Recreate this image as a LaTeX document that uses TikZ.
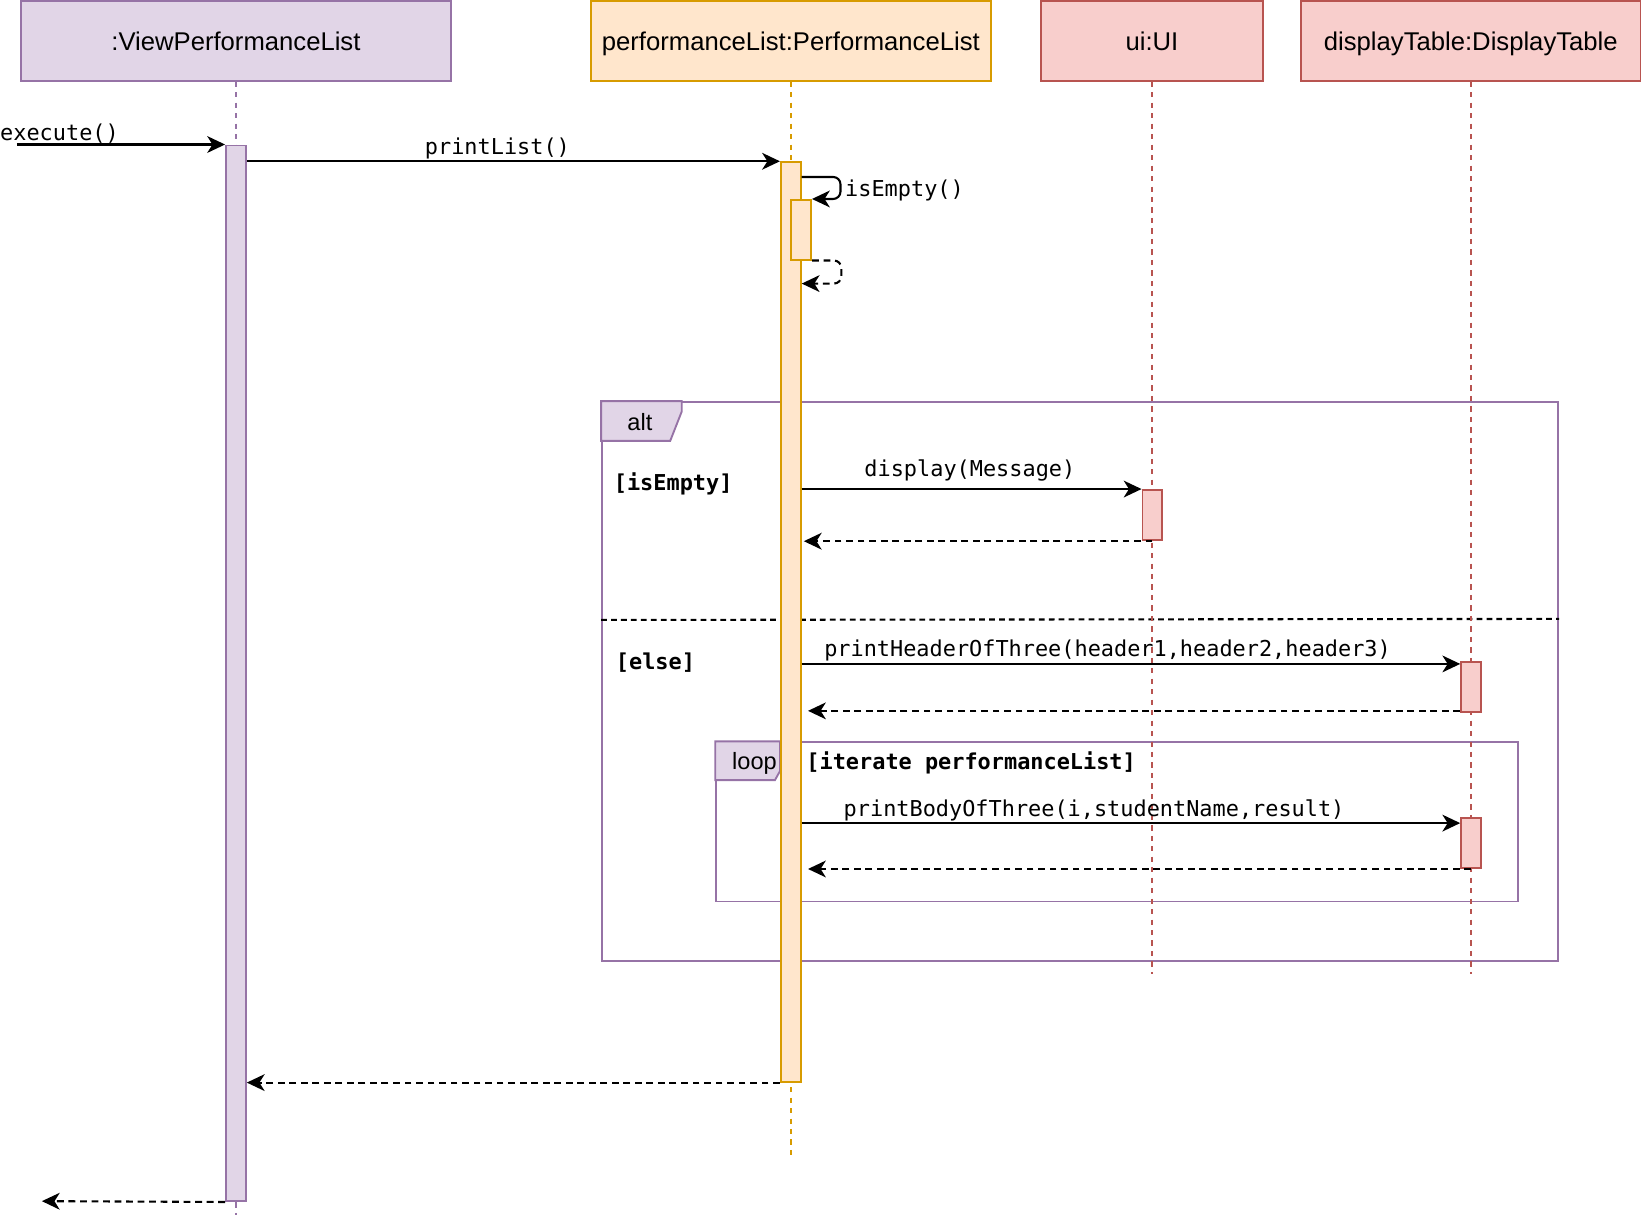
\documentclass[tikz,border=0pt]{standalone}
\usepackage{fontspec}
\setmonofont{DejaVu Sans Mono}
\newfontfamily\headfont{Liberation Sans}
\usepackage{xcolor}
\usepackage{tikz}
\usetikzlibrary{calc,arrows.meta,positioning}
\definecolor{lilacFill}{HTML}{E1D5E7}
\definecolor{lilacLine}{HTML}{9673A6}
\definecolor{peachFill}{HTML}{FFE6CC}
\definecolor{peachLine}{HTML}{D79B00}
\definecolor{roseFill}{HTML}{F8CECC}
\definecolor{roseLine}{HTML}{B85450}

\begin{document}
\begin{tikzpicture}[
        x=1pt, y=-1pt,
        objbox/.style={draw=#1Line, fill=#1Fill, line width=1.8pt, minimum height=76pt, inner sep=0pt, text height=17.5pt, text depth=0pt, font=\headfont\fontsize{24.5pt}{29pt}\selectfont},
        lifeline/.style={draw=#1Line, line width=1.5pt, dash pattern=on 5pt off 5pt},
        actbar/.style={draw=#1Line, fill=#1Fill, line width=1.8pt, minimum width=19pt, anchor=north, inner sep=0pt},
        msg/.style={line width=2pt, -{Stealth[length=17pt, width=16pt, inset=5pt]}},
        ret/.style={msg, dash pattern=on 6.5pt off 4.5pt},
        call/.style={font=\ttfamily\fontsize{20.9pt}{25pt}\selectfont, inner sep=0pt, anchor=base west},
        guard/.style={font=\ttfamily\bfseries\fontsize{20.9pt}{25pt}\selectfont, inner sep=0pt, anchor=base west},
        umlframe/.style={draw=lilacLine, line width=1.8pt, anchor=north west, inner sep=0pt},
        fragtag/.style={draw=lilacLine, fill=lilacFill, line width=1.8pt},
        tagtext/.style={font=\headfont\fontsize{22.5pt}{27pt}\selectfont, inner sep=0pt, anchor=base west},
        divider/.style={line width=2pt, dash pattern=on 5.5pt off 4pt}
    ]
        \useasboundingbox (0,0) rectangle (1568,1167);

        % --- participants ---
        \node[objbox=lilac, minimum width=410pt] (view) at (225.3,39.2) {:ViewPerformanceList};
        \node[objbox=peach, minimum width=382pt] (perfList) at (755.2,39.2) {performanceList:PerformanceList};
        \node[objbox=rose, minimum width=212pt] (ui) at (1100,39.2) {ui:UI};
        \node[objbox=rose, minimum width=324pt] (table) at (1404.5,39.2) {displayTable:DisplayTable};

        % --- alt / loop fragments ---
        \node[umlframe, minimum width=913pt, minimum height=534pt] (altFrame) at (574,383) {};
        \draw[fragtag] (altFrame.north west) -- ++(77,0) -- ++(0,10) -- ++(-11,28) -- ++(-66,0) -- cycle;
        \node[tagtext] (altTag) at (599,411) {alt};
        \draw[divider] ($(altFrame.north west)+(0,209)$) -- ($(altFrame.north east)+(0,208)$);
        \node[umlframe, minimum width=766pt, minimum height=152pt] (loopFrame) at (683,708) {};
        \draw[fragtag] (loopFrame.north west) -- ++(62,0) -- ++(0,28) -- ++(-5,9) -- ++(-57,0) -- cycle;
        \node[tagtext] (loopTag) at (699,735) {loop};
        \node[guard] (emptyGuard) at (586,468) {[isEmpty]};
        \node[guard] (elseGuard) at (588,639) {[else]};
        \node[guard] (iterGuard) at (769.9,735) {[iterate performanceList]};

        % --- lifelines ---
        \coordinate (viewEnd) at (225.3,1160);
        \coordinate (listEnd) at (755.2,1103);
        \coordinate (uiEnd) at (1100,930);
        \coordinate (tableEnd) at (1404.5,930);
        \draw[lifeline=lilac] (view.south) -- (viewEnd);
        \draw[lifeline=peach] (perfList.south) -- (listEnd);
        \draw[lifeline=rose] (ui.south) -- (uiEnd);
        \draw[lifeline=rose] (table.south) -- (tableEnd);

        % --- activations ---
        \node[actbar=lilac, minimum height=1008pt] (viewAct) at (225.3,138) {};
        \node[actbar=peach, minimum height=878pt] (listAct) at (755.2,154) {};
        \node[actbar=peach, minimum height=57pt] (checkAct) at (765,190) {};
        \node[actbar=rose, minimum height=48pt] (uiAct) at (1100.5,467) {};
        \node[actbar=rose, minimum height=48pt] (headAct) at (1404.8,631) {};
        \node[actbar=rose, minimum height=48pt] (bodyAct) at (1404.8,780) {};

        % --- calls ---
        \coordinate (caller) at (16,138);
        \draw[msg] (caller) -- (viewAct.north west);
        \node[call] (execLbl) at (0,134) {execute()};
        \draw[msg] (listAct.north west -| viewAct.east) -- (listAct.north west);
        \node[call] (printLbl) at (405.6,148) {printList()};
        \draw[msg, rounded corners=7pt] ($(listAct.north east)+(0,15)$) -- ++(37,0) -- ++(0,21) -- (checkAct.north east);
        \node[call] (emptyLbl) at (806.9,188) {isEmpty()};
        \coordinate (checkBack) at ($(checkAct.south east)+(28,22)$);
        \draw[ret, rounded corners=7pt] (checkAct.south east) -- (checkBack |- checkAct.south east) -- (checkBack) -- (checkBack -| listAct.east);

        \draw[msg] (uiAct.north west -| listAct.east) -- (uiAct.north west);
        \node[call] (dispLbl) at (825.3,455) {display(Message)};
        \draw[ret] (uiAct.south) -- ($(uiAct.south -| listAct.east)+(2,0)$);

        \coordinate (headIn) at ($(headAct.north west)+(0,3)$);
        \draw[msg] (headIn -| listAct.east) -- (headIn);
        \node[call] (headLbl) at (786.9,626.5) {printHeaderOfThree(header1,header2,header3)};
        \coordinate (headOut) at ($(headAct.south west)+(0,-2)$);
        \draw[ret] (headOut) -- ($(headOut -| listAct.east)+(6,0)$);

        \coordinate (bodyIn) at ($(bodyAct.north west)+(0,6)$);
        \draw[msg] (bodyIn -| listAct.east) -- (bodyIn);
        \node[call] (bodyLbl) at (805.5,780) {printBodyOfThree(i,studentName,result)};
        \draw[ret] (bodyAct.south) -- ($(bodyAct.south -| listAct.east)+(6,0)$);

        % --- returns ---
        \draw[ret] (listAct.south west) -- (listAct.south west -| viewAct.east);
        \coordinate (exitPt) at (40,1147);
        \draw[ret] (viewAct.south west) -- (exitPt);
    \end{tikzpicture}
\end{document}
